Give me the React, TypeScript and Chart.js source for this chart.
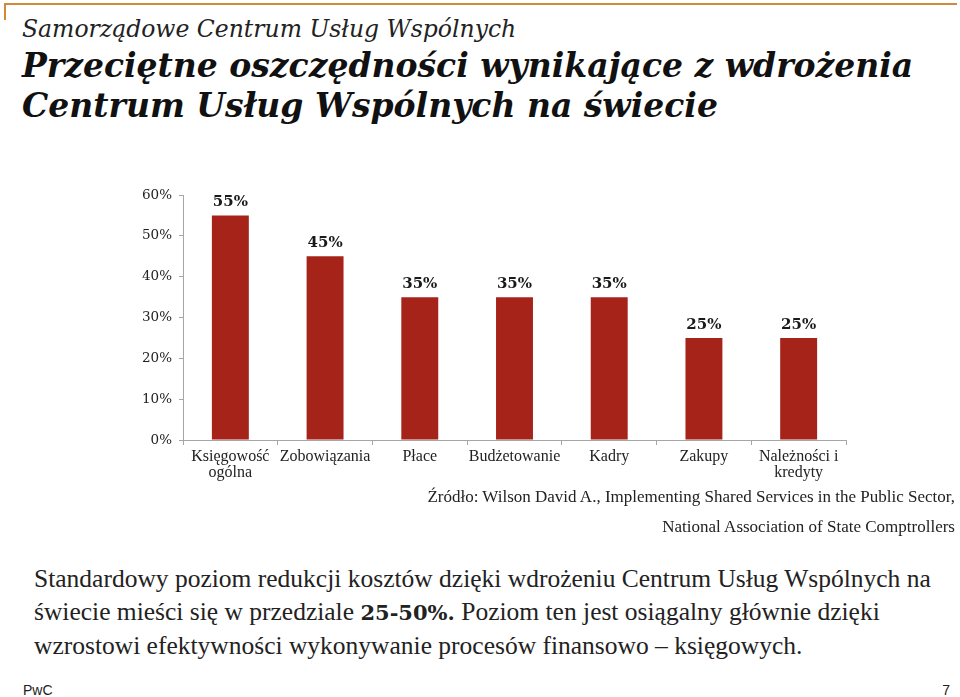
import React, { useEffect, useRef } from "react";
import { Chart, registerables } from "chart.js";

Chart.register(...registerables);

const categories: (string | string[])[] = [
  ["Księgowość", "ogólna"],
  "Zobowiązania",
  "Płace",
  "Budżetowanie",
  "Kadry",
  "Zakupy",
  ["Należności i", "kredyty"],
];
const savings = [55, 45, 35, 35, 35, 25, 25];
const yTicks = [0, 10, 20, 30, 40, 50, 60];

const BAR = "#a6231a";
const SERIF_G = "'DejaVu Serif', Georgia, serif";
const SERIF_T = "'Liberation Serif', 'Times New Roman', serif";

const dataLabels = {
  id: "dataLabels",
  afterDatasetsDraw(chart: any) {
    const ctx = chart.ctx;
    const meta = chart.getDatasetMeta(0);
    const ds = chart.data.datasets[0];
    ctx.save();
    ctx.font = `bold 15px ${SERIF_G}`;
    ctx.fillStyle = "#1a1a1a";
    ctx.textAlign = "center";
    ctx.textBaseline = "middle";
    meta.data.forEach((bar: any, i: number) => {
      ctx.fillText(`${ds.data[i]}%`, bar.x, bar.y - 13);
    });
    ctx.restore();
  },
};

function BarChart() {
  const ref = useRef<HTMLCanvasElement>(null);
  useEffect(() => {
    if (!ref.current) return;
    const chart = new Chart(ref.current, {
      type: "bar",
      data: {
        labels: categories,
        datasets: [
          {
            data: savings,
            backgroundColor: BAR,
            barPercentage: 0.78,
            categoryPercentage: 0.5,
          },
        ],
      },
      options: {
        responsive: false,
        animation: false,
        layout: { padding: { top: 14, right: 114, left: 0, bottom: 0 } },
        plugins: { legend: { display: false }, tooltip: { enabled: false } },
        scales: {
          x: {
            grid: {
              display: true,
              drawOnChartArea: false,
              drawTicks: true,
              tickLength: 5,
              color: "#a6a6a6",
              offset: true,
            },
            border: { display: true, color: "#a6a6a6" },
            ticks: {
              color: "#222",
              font: { family: SERIF_T, size: 16, lineHeight: 1.05 },
              padding: 3,
              maxRotation: 0,
              autoSkip: false,
            },
            afterFit: (s: any) => {
              s.height = 60;
            },
          },
          y: {
            min: 0,
            max: 60,
            afterBuildTicks: (s: any) => {
              s.ticks = yTicks.map((v) => ({ value: v }));
            },
            grid: {
              display: true,
              drawOnChartArea: false,
              drawTicks: true,
              tickLength: 4,
              color: "#a6a6a6",
            },
            border: { display: true, color: "#a6a6a6" },
            ticks: {
              color: "#222",
              font: { family: SERIF_G, size: 13.5 },
              padding: 7,
              callback: (v: any) => `${v}%`,
            },
            afterFit: (s: any) => {
              s.width = 183;
            },
          },
        },
      },
      plugins: [dataLabels],
    });
    return () => chart.destroy();
  }, []);
  return (
    <canvas
      ref={ref}
      width={960}
      height={320}
      style={{ position: "absolute", left: 0, top: 180, width: 960, height: 320 }}
    />
  );
}

export default function App() {
  const abs = (s: React.CSSProperties): React.CSSProperties => ({
    position: "absolute",
    whiteSpace: "nowrap",
    margin: 0,
    ...s,
  });
  return (
    <div
      style={{
        position: "fixed",
        left: 0,
        top: 0,
        width: 960,
        height: 697,
        background: "#fff",
        overflow: "hidden",
      }}
    >
      <div style={abs({ left: 4, top: 3, width: 953, height: 2, background: "#d4883a" })} />
      <div style={abs({ left: 4, top: 3, width: 2, height: 17, background: "#d4883a" })} />
      <div
        style={abs({
          left: 22,
          top: 14,
          fontFamily: SERIF_G,
          fontStyle: "italic",
          fontSize: 23.5,
          lineHeight: "30px",
          color: "#222",
        })}
      >
        Samorządowe Centrum Usług Wspólnych
      </div>
      <div
        style={abs({
          left: 22,
          top: 46,
          fontFamily: SERIF_G,
          fontStyle: "italic",
          fontWeight: "bold",
          fontSize: 33,
          lineHeight: "40px",
          color: "#111",
        })}
      >
        Przeciętne oszczędności wynikające z wdrożenia
        <br />
        Centrum Usług Wspólnych na świecie
      </div>
      <BarChart />
      <div
        style={abs({
          right: 5,
          top: 482,
          fontFamily: SERIF_T,
          fontSize: 17,
          lineHeight: "30px",
          color: "#222",
          textAlign: "right",
        })}
      >
        Źródło: Wilson David A., Implementing Shared Services in the Public Sector,
        <br />
        National Association of State Comptrollers
      </div>
      <div
        style={abs({
          left: 34,
          top: 562,
          fontFamily: SERIF_T,
          fontSize: 25.5,
          lineHeight: "33px",
          color: "#222",
        })}
      >
        Standardowy poziom redukcji kosztów dzięki wdrożeniu Centrum Usług Wspólnych na
        <br />
        świecie mieści się w przedziale{" "}
        <b style={{ fontFamily: SERIF_G, fontSize: 21 }}>25-50%.</b> Poziom ten jest osiągalny głównie dzięki
        <br />
        wzrostowi efektywności wykonywanie procesów finansowo – księgowych.
      </div>
      <div
        style={abs({
          left: 23,
          top: 682,
          fontFamily: "'Liberation Sans', Arial, sans-serif",
          fontSize: 14,
          lineHeight: "16px",
          color: "#222",
        })}
      >
        PwC
      </div>
      <div
        style={abs({
          right: 10,
          top: 682,
          fontFamily: "'Liberation Sans', Arial, sans-serif",
          fontSize: 14,
          lineHeight: "16px",
          color: "#222",
        })}
      >
        7
      </div>
    </div>
  );
}
